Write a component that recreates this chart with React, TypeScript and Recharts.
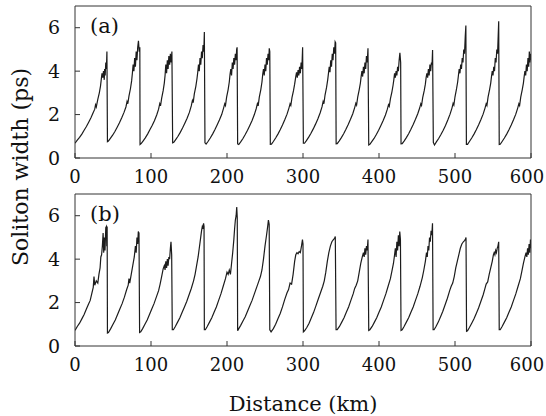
import React from 'react';
import { LineChart, Line, XAxis, YAxis } from 'recharts';

const xTicks = [0, 100, 200, 300, 400, 500, 600];
const yTicks = [0, 2, 4, 6];
const xDomain = [0, 600];
const yDomain = [0, 7];
const panelLabels = ['(a)', '(b)'];
const xTitle = 'Distance (km)';
const yTitle = 'Soliton width (ps)';

// Panel (a): distance (km), soliton width (ps)
const panelA: [number, number][] = [
  [0,0.68],[3,0.82],[6,0.95],[9,1.1],[12,1.28],[15,1.45],[18,1.65],[21,1.85],[24,2.1],[26,2.25],[27,2.45],[28,2.35],[30,2.7],[32,3.0],[33.5,3.3],[34.5,3.6],[35.5,3.9],[36.5,3.7],[37.5,4.0],[38.5,3.6],[39,4.1],[39.7,3.8],[40.5,4.4],[41.3,4.1],[42,4.9],[42.7,0.75],
  [44,0.78],[46.5,0.9],[49.5,1.05],[52.5,1.22],[55.5,1.42],[58.5,1.62],[61.5,1.85],[64.5,2.1],[67,2.35],[68.5,2.6],[69.5,2.5],[71,2.85],[73,3.2],[74.5,3.55],[75.5,3.9],[76.5,4.3],[77.5,4.0],[78.5,4.6],[79.5,4.2],[80.5,4.9],[81.5,4.5],[82.5,5.1],[83.5,5.4],[84.5,4.9],[85.3,5.1],[85.6,0.62],
  [87,0.66],[89.5,0.78],[92.5,0.93],[95.5,1.1],[98.5,1.3],[101.5,1.5],[104.5,1.72],[107.5,1.98],[110,2.25],[111.5,2.5],[112.5,2.4],[114,2.75],[116,3.1],[117.5,3.45],[118.5,3.8],[119.5,4.3],[120.5,3.9],[121.5,4.5],[122.5,4.1],[123.5,4.7],[124.5,4.3],[125.5,4.8],[126.5,4.4],[127.5,4.9],[128.5,0.7],
  [130,0.72],[132.5,0.85],[135.5,1.0],[138.5,1.18],[141.5,1.38],[144.5,1.6],[147.5,1.83],[150.5,2.1],[153,2.4],[154.5,2.65],[155.5,2.55],[157,2.95],[159,3.3],[160.5,3.65],[161.5,3.95],[162.5,4.3],[163.5,4.0],[164.5,4.6],[165.5,4.3],[166.5,4.9],[167.5,4.6],[168.5,5.2],[169.5,4.9],[170.2,5.8],[171,0.7],
  [172.5,0.64],[175,0.76],[178,0.92],[181,1.1],[184,1.3],[187,1.52],[190,1.75],[193,2.0],[195.5,2.3],[197,2.5],[198,2.42],[199.5,2.8],[201.5,3.15],[203,3.5],[204,3.85],[205,4.1],[206,3.8],[207,4.4],[208,4.1],[209,4.6],[210,4.3],[211,4.8],[212,4.5],[212.7,5.0],[213.3,5.1],[214,0.65],
  [215.5,0.62],[218,0.74],[221,0.9],[224,1.08],[227,1.28],[230,1.5],[233,1.73],[236,2.0],[238.5,2.28],[240,2.5],[241,2.4],[242.5,2.8],[244.5,3.15],[246,3.5],[247,3.85],[248,4.1],[249,3.8],[250,4.3],[251,4.0],[252,4.6],[253,4.3],[254,4.8],[255,4.5],[255.6,5.05],[256.3,4.9],[257,0.63],
  [258.5,0.64],[261,0.76],[264,0.92],[267,1.1],[270,1.3],[273,1.52],[276,1.76],[279,2.02],[281.5,2.3],[283,2.5],[284,2.42],[285.5,2.78],[287.5,3.1],[289,3.4],[290.5,3.75],[291.5,3.95],[292.5,3.7],[293.5,4.05],[294.5,3.8],[295.5,4.2],[296.5,3.9],[297.5,4.4],[298.5,4.1],[299.5,5.1],[300.5,0.68],
  [302,0.68],[304.5,0.8],[307.5,0.96],[310.5,1.14],[313.5,1.34],[316.5,1.56],[319.5,1.8],[322.5,2.07],[325,2.35],[326.5,2.6],[327.5,2.5],[329,2.9],[331,3.25],[332.5,3.6],[333.5,3.9],[334.5,4.2],[335.5,3.95],[336.5,4.5],[337.5,4.2],[338.5,4.8],[339.5,4.5],[340.5,5.1],[341.5,4.8],[342.3,5.35],[343,5.3],[343.6,0.65],
  [345,0.66],[347.5,0.78],[350.5,0.94],[353.5,1.12],[356.5,1.32],[359.5,1.54],[362.5,1.78],[365.5,2.04],[368,2.32],[369.5,2.52],[370.5,2.44],[372,2.8],[374,3.15],[375.5,3.45],[376.5,3.75],[377.5,4.0],[378.5,3.75],[379.5,4.2],[380.5,3.9],[381.5,4.4],[382.5,4.1],[383.5,4.7],[384.5,4.4],[385.5,5.05],[386.5,0.6],
  [388,0.63],[390.5,0.75],[393.5,0.9],[396.5,1.08],[399.5,1.28],[402.5,1.5],[405.5,1.73],[408.5,1.98],[411,2.25],[412.5,2.45],[413.5,2.38],[415,2.72],[417,3.05],[418.5,3.35],[419.5,3.6],[420.5,3.9],[421.5,3.7],[422.5,4.0],[423.5,3.8],[424.5,4.2],[425.5,4.0],[426.5,4.5],[427.5,4.85],[428.5,4.4],[429,0.65],
  [430.5,0.66],[433,0.78],[436,0.94],[439,1.12],[442,1.32],[445,1.54],[448,1.78],[451,2.04],[453.5,2.3],[455,2.5],[456,2.42],[457.5,2.78],[459.5,3.1],[461,3.4],[462,3.7],[463,3.9],[464,3.7],[465,4.1],[466,3.8],[467,4.3],[468,4.0],[469,4.4],[469.8,4.3],[470.5,4.97],[471.5,0.72],
  [473,0.6],[475.5,0.74],[478.5,0.9],[481.5,1.08],[484.5,1.28],[487.5,1.5],[490.5,1.75],[493.5,2.02],[496,2.3],[497.5,2.52],[498.5,2.44],[500,2.82],[502,3.18],[503.5,3.5],[504.5,3.8],[505.5,4.1],[506.5,3.9],[507.5,4.3],[508.5,4.1],[509.5,4.6],[510.5,4.4],[511.5,5.0],[512.5,4.8],[513.5,5.6],[514.3,6.1],[515,0.63],
  [516.5,0.63],[519,0.76],[522,0.92],[525,1.1],[528,1.3],[531,1.52],[534,1.76],[537,2.02],[539.5,2.3],[541,2.5],[542,2.42],[543.5,2.8],[545.5,3.15],[547,3.45],[548,3.75],[549,4.0],[550,3.8],[551,4.2],[552,4.0],[553,4.6],[554,4.4],[555,5.0],[556,4.8],[556.8,5.6],[557.5,6.3],[558.2,0.62],
  [559.5,0.63],[562,0.76],[565,0.92],[568,1.1],[571,1.3],[574,1.52],[577,1.76],[580,2.02],[582.5,2.3],[584,2.5],[585,2.42],[586.5,2.8],[588.5,3.15],[590,3.45],[591,3.75],[592,4.0],[593,3.8],[594,4.3],[595,4.0],[596,4.6],[597,4.2],[597.8,4.9],[598.6,4.4],[599.3,4.8],[600,4.5],
];

// Panel (b): distance (km), soliton width (ps)
const panelB: [number, number][] = [
  [0,0.72],[3,0.9],[6,1.05],[9,1.25],[12,1.45],[15,1.7],[18,1.95],[20,2.1],[22,2.4],[24,2.7],[25,3.2],[26,2.8],[28,3.0],[30,2.9],[31.5,3.3],[33,3.6],[34,4.1],[35,4.2],[36,4.6],[37,5.2],[37.8,4.3],[38.5,5.0],[39.5,4.4],[40.5,5.45],[41.3,5.5],[41.8,4.6],[42.3,5.5],[42.7,0.6],
  [44,0.62],[47,0.8],[50,1.0],[53,1.2],[56,1.45],[59,1.7],[62,1.95],[65,2.25],[68,2.6],[70,2.8],[71,3.1],[72,2.9],[74,3.3],[76,3.7],[78,4.1],[79.5,4.6],[80.5,4.3],[81.5,5.0],[82.5,4.7],[83.3,5.27],[84.2,5.2],[85,0.62],
  [86.5,0.65],[89,0.8],[92,1.0],[95,1.2],[98,1.45],[101,1.7],[104,1.95],[107,2.25],[110,2.55],[112,2.85],[114,3.2],[116,3.55],[117.5,3.7],[118.5,3.5],[119.5,3.9],[120.5,3.6],[121.5,4.0],[122.5,3.7],[123.5,4.1],[124.5,4.0],[125.5,4.5],[126.3,4.8],[127.2,4.2],[128,0.75],
  [129.5,0.75],[132,0.9],[135,1.1],[138,1.3],[141,1.55],[144,1.8],[147,2.05],[150,2.35],[153,2.65],[156,3.0],[158,3.3],[160,3.7],[162,4.1],[163.5,4.5],[165,4.9],[166.5,5.3],[167.5,5.5],[168.5,5.4],[169.2,5.65],[169.8,5.5],[170.2,0.75],
  [171.5,0.75],[174,0.9],[177,1.1],[180,1.3],[183,1.55],[186,1.8],[189,2.1],[192,2.4],[195,2.75],[198,3.1],[200,3.4],[201.5,3.3],[203,3.5],[204.5,3.3],[206,3.8],[207.5,4.3],[209,4.9],[210,5.4],[211,5.8],[212,6.0],[212.8,6.4],[213.5,5.9],[214,0.7],
  [215.5,0.8],[218,0.95],[221,1.15],[224,1.35],[227,1.6],[230,1.85],[233,2.1],[236,2.4],[239,2.7],[242,3.0],[244,3.2],[246,3.5],[248,4.0],[250,4.6],[252,5.1],[253.5,5.5],[254.5,5.8],[255.5,5.6],[256.3,0.75],
  [258,0.65],[261,0.8],[264,1.0],[267,1.25],[270,1.5],[273,1.8],[276,2.15],[279,2.45],[281,2.6],[283,2.9],[285,2.85],[287,3.3],[289,3.9],[290.5,4.2],[292,4.3],[293.5,4.25],[295,4.35],[296.5,4.3],[298,4.6],[299.3,4.9],[300,4.7],[300.5,0.65],
  [302,0.7],[305,0.85],[308,1.05],[311,1.3],[314,1.55],[317,1.85],[320,2.15],[323,2.45],[326,2.75],[328,3.0],[330,3.4],[332,3.9],[334,4.3],[336,4.6],[338,4.8],[340,4.9],[341.5,4.95],[342.5,5.04],[343.5,0.75],
  [345,0.75],[348,0.9],[351,1.1],[354,1.3],[357,1.55],[360,1.8],[363,2.1],[366,2.4],[368,2.65],[370,2.8],[372,3.0],[374,3.4],[376,3.8],[378,4.1],[379.5,4.3],[380.5,4.1],[381.5,4.5],[382.5,4.2],[383.5,4.6],[384.5,4.4],[385.5,4.9],[386.5,0.72],
  [388,0.75],[391,0.9],[394,1.1],[397,1.3],[400,1.55],[403,1.8],[406,2.1],[409,2.4],[412,2.75],[415,3.1],[417,3.45],[419,3.8],[420.5,4.2],[421.5,4.5],[422.5,4.1],[423.5,4.8],[424.5,4.4],[425.5,5.1],[426.5,4.6],[427.3,5.27],[428.2,4.9],[429,0.72],
  [430.5,0.75],[433,0.9],[436,1.1],[439,1.3],[442,1.55],[445,1.8],[448,2.1],[451,2.4],[454,2.75],[457,3.15],[459,3.5],[461,3.9],[462.5,4.3],[463.5,4.1],[464.5,4.6],[465.5,4.4],[466.5,5.0],[467.5,4.8],[468.5,5.3],[469.5,5.1],[470.4,5.65],[471.2,0.75],
  [472.5,0.75],[475,0.9],[478,1.1],[481,1.35],[484,1.6],[487,1.9],[490,2.2],[493,2.55],[495,2.75],[497,2.9],[499,3.2],[501,3.6],[503,3.9],[505,4.2],[507,4.5],[509,4.7],[511,4.8],[512.5,4.85],[513.5,4.9],[514.5,5.0],[515.2,0.68],
  [516.5,0.7],[519,0.85],[522,1.05],[525,1.25],[528,1.5],[531,1.75],[534,2.05],[537,2.35],[539,2.6],[541,2.85],[543,2.95],[545,3.3],[547,3.6],[549,3.9],[550.5,4.2],[551.5,4.3],[552.5,4.2],[553.5,4.4],[554.5,4.3],[555.5,4.5],[556.5,4.6],[557.5,4.8],[558.2,0.75],
  [559.5,0.75],[562,0.9],[565,1.1],[568,1.3],[571,1.55],[574,1.8],[577,2.1],[580,2.4],[583,2.75],[586,3.1],[588,3.45],[590,3.8],[592,4.1],[593.5,4.3],[594.5,4.1],[595.5,4.5],[596.5,4.2],[597.5,4.7],[598.5,4.3],[599.3,4.9],[600,4.5],
];

const FONT = '"DejaVu Serif", serif';
const AXIS = '#333';
const lastXTick = xTicks[xTicks.length - 1];

function XTick(props: any) {
  const { x, y, payload } = props;
  const shift = payload.value === lastXTick ? -4 : 0;
  return (
    <text
      x={x + shift}
      y={y}
      dy="0.71em"
      textAnchor="middle"
      fill="#111"
      fontSize={18}
      fontFamily={FONT}
    >
      {payload.value}
    </text>
  );
}

function Panel({ data, top, label }: { data: [number, number][]; top: number; label: string }) {
  const rows = data.map(([d, w]) => ({ d, w }));
  return (
    <div style={{ position: 'absolute', left: 0, top, width: 546, height: 190 }}>
      <LineChart width={546} height={190} data={rows} margin={{ top: 5, right: 14, bottom: 0, left: 15 }}>
        <XAxis
          xAxisId="b"
          dataKey="d"
          type="number"
          domain={xDomain}
          ticks={xTicks}
          interval={0}
          height={32}
          tickSize={-5}
          tickMargin={17}
          stroke={AXIS}
          tick={<XTick />}
          allowDataOverflow
        />
        <XAxis
          xAxisId="t"
          orientation="top"
          dataKey="d"
          type="number"
          domain={xDomain}
          ticks={xTicks}
          interval={0}
          height={1}
          tickSize={-5}
          tick={false}
          stroke={AXIS}
          allowDataOverflow
        />
        <YAxis
          yAxisId="l"
          type="number"
          domain={yDomain}
          ticks={yTicks}
          interval={0}
          width={60}
          tickSize={-5}
          tickMargin={20}
          stroke={AXIS}
          tick={{ fill: '#111', fontSize: 19, fontFamily: FONT }}
          allowDataOverflow
        />
        <YAxis
          yAxisId="r"
          orientation="right"
          type="number"
          domain={yDomain}
          ticks={yTicks}
          interval={0}
          width={1}
          tickSize={-5}
          tick={false}
          stroke={AXIS}
          allowDataOverflow
        />
        <Line
          xAxisId="t"
          yAxisId="r"
          dataKey="w"
          type="linear"
          dot={false}
          stroke="none"
          isAnimationActive={false}
        />
        <Line
          xAxisId="b"
          yAxisId="l"
          dataKey="w"
          type="linear"
          dot={false}
          stroke="#1c1c1c"
          strokeWidth={1.2}
          isAnimationActive={false}
        />
      </LineChart>
      <div
        style={{
          position: 'absolute',
          left: 90,
          top: 14,
          fontFamily: FONT,
          fontSize: 21,
          lineHeight: '24px',
          color: '#111',
        }}
      >
        {label}
      </div>
    </div>
  );
}

export default function App() {
  return (
    <div style={{ position: 'absolute', left: 0, top: 0, width: 546, height: 416, background: '#fff' }}>
      <style>{'.recharts-surface{overflow:visible}'}</style>
      <Panel data={panelA} top={0} label={panelLabels[0]} />
      <Panel data={panelB} top={188} label={panelLabels[1]} />
      <svg width={546} height={416} style={{ position: 'absolute', left: 0, top: 0, pointerEvents: 'none' }}>
        <text
          x={303}
          y={411}
          textAnchor="middle"
          fontFamily={FONT}
          fontSize={21}
          fill="#111"
        >
          {xTitle}
        </text>
        <text
          transform="translate(28,167) rotate(-90)"
          textAnchor="middle"
          fontFamily={FONT}
          fontSize={22}
          fill="#111"
        >
          {yTitle}
        </text>
      </svg>
    </div>
  );
}
